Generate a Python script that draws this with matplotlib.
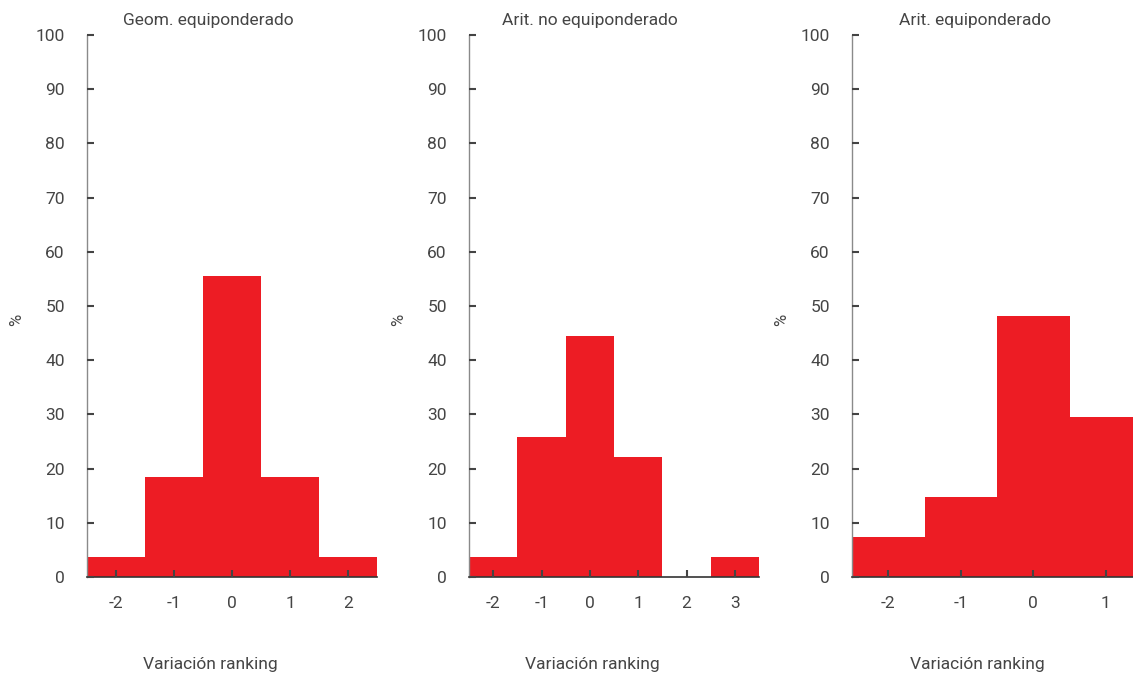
import numpy as np
import matplotlib.pyplot as plt

plt.rcParams['font.family'] = ['Roboto', 'DejaVu Sans']

titles = ['Geom. equiponderado', 'Arit. no equiponderado', 'Arit. equiponderado']
x1 = [-2, -1, 0, 1, 2]
y1 = [3.7, 18.5, 55.6, 18.5, 3.7]
x2 = [-2, -1, 0, 1, 2, 3]
y2 = [3.7, 25.9, 44.4, 22.2, 0.0, 3.7]
x3 = [-2, -1, 0, 1]
y3 = [7.4, 14.8, 48.1, 29.6]

red = '#ED1C24'
txt = '#454545'

W, H = 1133, 675
fig = plt.figure(figsize=(W / 100, H / 100), dpi=100)

lefts = [87, 469, 852]
title_x = [208, 590, 975]
data = [(x1, y1), (x2, y2), (x3, y3)]
top, bottom = 35, 577

for i, (xs, ys) in enumerate(data):
    ax = fig.add_axes([lefts[i] / W, 1 - bottom / H, 290 / W, (bottom - top) / H])
    ax.bar(xs, ys, width=1.0, color=red, edgecolor='none')
    ax.set_xlim(-2.5, xs[-1] + 0.5)
    ax.set_ylim(0, 100)
    ax.set_yticks(np.arange(0, 101, 10))
    ax.set_xticks(xs)
    ax.set_xticklabels([str(v) for v in xs])
    ax.set_axisbelow(False)
    for s in ['top', 'right']:
        ax.spines[s].set_visible(False)
    ax.spines['left'].set_color('#8a8a8a')
    ax.spines['left'].set_linewidth(1.0)
    ax.spines['bottom'].set_color('#333333')
    ax.spines['bottom'].set_linewidth(1.2)
    ax.tick_params(axis='both', direction='in', length=5, width=1.5, color='#444444',
                   labelsize=12.5, labelcolor=txt)
    ax.tick_params(axis='y', pad=16)
    ax.tick_params(axis='x', pad=14)
    ax.patch.set_alpha(0)
    fig.text(title_x[i] / W, 1 - 20 / H, titles[i], ha='center', va='center',
             fontsize=12.5, color=txt)
    fig.text(title_x[i] / W + 2 / W, 1 - 664 / H, 'Variación ranking', ha='center',
             va='center', fontsize=12.5, color=txt)
    fig.text((lefts[i] - 70) / W, 1 - 320 / H, '%', ha='center', va='center',
             rotation=90, fontsize=12, color=txt)

fig.savefig('out.png', dpi=100)
